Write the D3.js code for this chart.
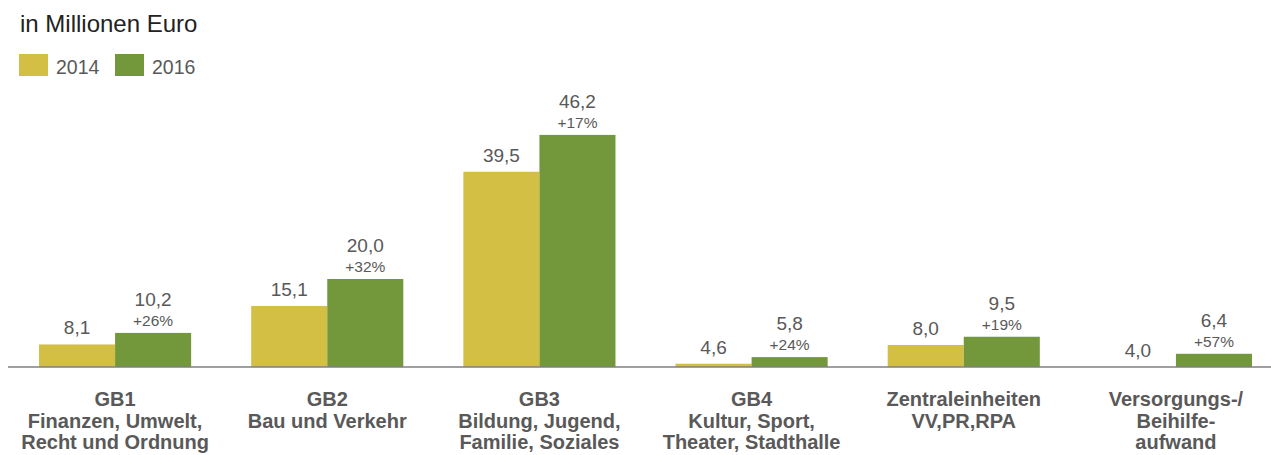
<!DOCTYPE html>
<html>
<head>
<meta charset="utf-8">
<script src="https://cdn.jsdelivr.net/npm/d3@7"></script>
<style>
  body { margin: 0; background: #fff; }
  svg { font-family: "Liberation Sans", Arial, sans-serif; display: block; }
</style>
</head>
<body>
<div id="chart"></div>
<script>
var categories = [
	["GB1", "Finanzen, Umwelt,", "Recht und Ordnung"],
	["GB2", "Bau und Verkehr"],
	["GB3", "Bildung, Jugend,", "Familie, Soziales"],
	["GB4", "Kultur, Sport,", "Theater, Stadthalle"],
	["Zentraleinheiten", "VV,PR,RPA"],
	["Versorgungs-/", "Beihilfe-", "aufwand"]
];
var years = ["2014", "2016"];
var values2014 = [8.1, 15.1, 39.5, 4.6, 8.0, 4.0];
var values2016 = [10.2, 20.0, 46.2, 5.8, 9.5, 6.4];
var changes = ["+26%", "+32%", "+17%", "+24%", "+19%", "+57%"];

function init() {
	var w = 1271;
	var h = 455;
	var base = 367;
	var colour = d3.scaleOrdinal().domain(years).range(["#d4bf45", "#73983c"]);

	var svg = d3.select("#chart")
		.append("svg")
		.attr("width", w)
		.attr("height", h);

	var idx = d3.range(categories.length);

	var fx = d3.scaleBand()
		.domain(idx)
		.range([9, 1282])
		.paddingInner(0.283)
		.paddingOuter(0.1415);

	var x = d3.scaleBand()
		.domain(years)
		.range([0, fx.bandwidth()]);

	var y = d3.scaleLinear()
		.domain([4, 50])
		.range([base, 114]);

	var fmt = v => d3.format(".1f")(v).replace(".", ",");

	// title + legend
	svg.append("text")
		.attr("x", 20).attr("y", 32)
		.attr("font-size", 24).attr("fill", "#222")
		.text("in Millionen Euro");

	var leg = svg.append("g").selectAll("g")
		.data(years)
		.join("g")
		.attr("transform", (d, i) => `translate(${19 + i * 96},54)`);
	leg.append("rect")
		.attr("width", 29).attr("height", 22)
		.attr("fill", d => colour(d));
	leg.append("text")
		.attr("x", 37).attr("y", 20)
		.attr("font-size", 19.5).attr("fill", "#595959")
		.text(d => d);

	var rows = idx.map(i => ({ i: i, v: [values2014[i], values2016[i]] }));

	var groups = svg.append("g")
		.selectAll("g")
		.data(rows)
		.join("g")
		.attr("transform", d => `translate(${fx(d.i)},0)`);

	groups.selectAll("rect")
		.data(d => years.map((yr, j) => ({ year: yr, value: d.v[j] })))
		.join("rect")
		.attr("x", d => x(d.year))
		.attr("y", d => y(d.value))
		.attr("width", x.bandwidth())
		.attr("height", d => base - y(d.value))
		.attr("fill", d => colour(d.year));

	// value labels
	groups.append("text")
		.attr("x", x("2014") + x.bandwidth() / 2)
		.attr("y", d => y(d.v[0]) - 10)
		.attr("text-anchor", "middle")
		.attr("font-size", 19).attr("fill", "#595959")
		.text(d => fmt(d.v[0]));

	groups.append("text")
		.attr("x", x("2016") + x.bandwidth() / 2)
		.attr("y", d => y(d.v[1]) - 27)
		.attr("text-anchor", "middle")
		.attr("font-size", 19).attr("fill", "#595959")
		.text(d => fmt(d.v[1]));

	groups.append("text")
		.attr("x", x("2016") + x.bandwidth() / 2)
		.attr("y", d => y(d.v[1]) - 7)
		.attr("text-anchor", "middle")
		.attr("font-size", 15.5).attr("fill", "#595959")
		.text(d => changes[d.i]);

	// baseline
	svg.append("line")
		.attr("x1", 8).attr("x2", w)
		.attr("y1", base).attr("y2", base)
		.attr("stroke", "#7f7f7f").attr("stroke-width", 1.5);

	// category labels
	groups.append("text")
		.attr("text-anchor", "middle")
		.attr("font-size", 20).attr("font-weight", "bold").attr("fill", "#595959")
		.selectAll("tspan")
		.data(d => categories[d.i])
		.join("tspan")
		.attr("x", fx.bandwidth() / 2)
		.attr("y", (d, k) => 406 + k * 21.5)
		.text(d => d);
}

window.onload = init;
</script>
</body>
</html>
